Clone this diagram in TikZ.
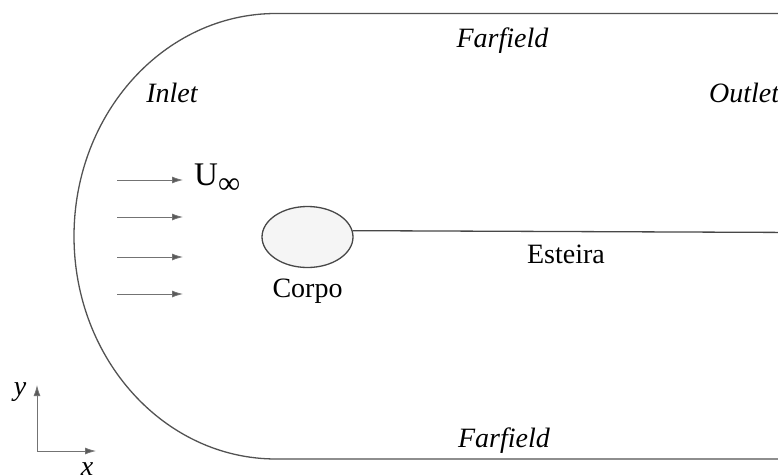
\documentclass[tikz,border=0pt]{standalone}
\usepackage{fontspec}
\setmainfont{Liberation Serif}
\usetikzlibrary{arrows.meta,shapes.geometric}
\begin{document}
\begin{tikzpicture}[x=1pt,y=1pt,
  bound/.style={draw=black!68,line width=1.3pt},
  flow/.style={draw=black!55,line width=0.8pt,-{Latex[length=11pt,width=7pt,fill=black!65]}},
  lbl/.style={font=\fontsize{28}{28}\selectfont,inner sep=0pt,anchor=base},
  ilbl/.style={lbl,font=\fontsize{28}{28}\selectfont\itshape}]
\useasboundingbox (0,0) rectangle (778,475);
% outer boundary
\draw[bound] (800,461.5) -- (276,461.5)
  arc[start angle=90,end angle=270,x radius=202,y radius=222.75] -- (800,16);
% body and wake
\node[ellipse,draw=black!72,line width=1.3pt,fill=black!4,minimum width=91pt,minimum height=61pt,inner sep=0pt] (body) at (307.5,238) {};
\coordinate (wakeend) at (800,242.5);
\draw[draw=black!72,line width=1.3pt] (body.8.5) -- (wakeend);
% free-stream arrows
\foreach \yy/\nm in {295/a,258/b,218/c,181/d}{
  \coordinate (s\nm) at (117,\yy);
  \coordinate (e\nm) at (183,\yy);
  \draw[flow] (s\nm) -- (e\nm);
}
% axes
\coordinate (o) at (37,24);
\coordinate (ytip) at (37,90);
\coordinate (xtip) at (96,24);
\draw[flow] (o) -- (ytip);
\draw[flow] (o) -- (xtip);
% labels
\node[ilbl] (ff1) at (502.5,427) {Farfield};
\node[ilbl] (ff2) at (504,28) {Farfield};
\node[ilbl] (inl) at (172,373) {Inlet};
\node[ilbl,anchor=base west] (outl) at (709,373) {Outlet};
\node[lbl] (est) at (566,212) {Esteira};
\node[lbl] (corpo) at (307.5,178) {Corpo};
\node[inner sep=0pt,anchor=base west] (uinf) at (194,290) {\fontsize{33}{33}\selectfont U\raisebox{-8pt}{\fontsize{31}{31}\selectfont ∞}};
\node[ilbl] (ylab) at (20,80) {y};
\node[ilbl] (xlab) at (87,0) {x};
\end{tikzpicture}
\end{document}
